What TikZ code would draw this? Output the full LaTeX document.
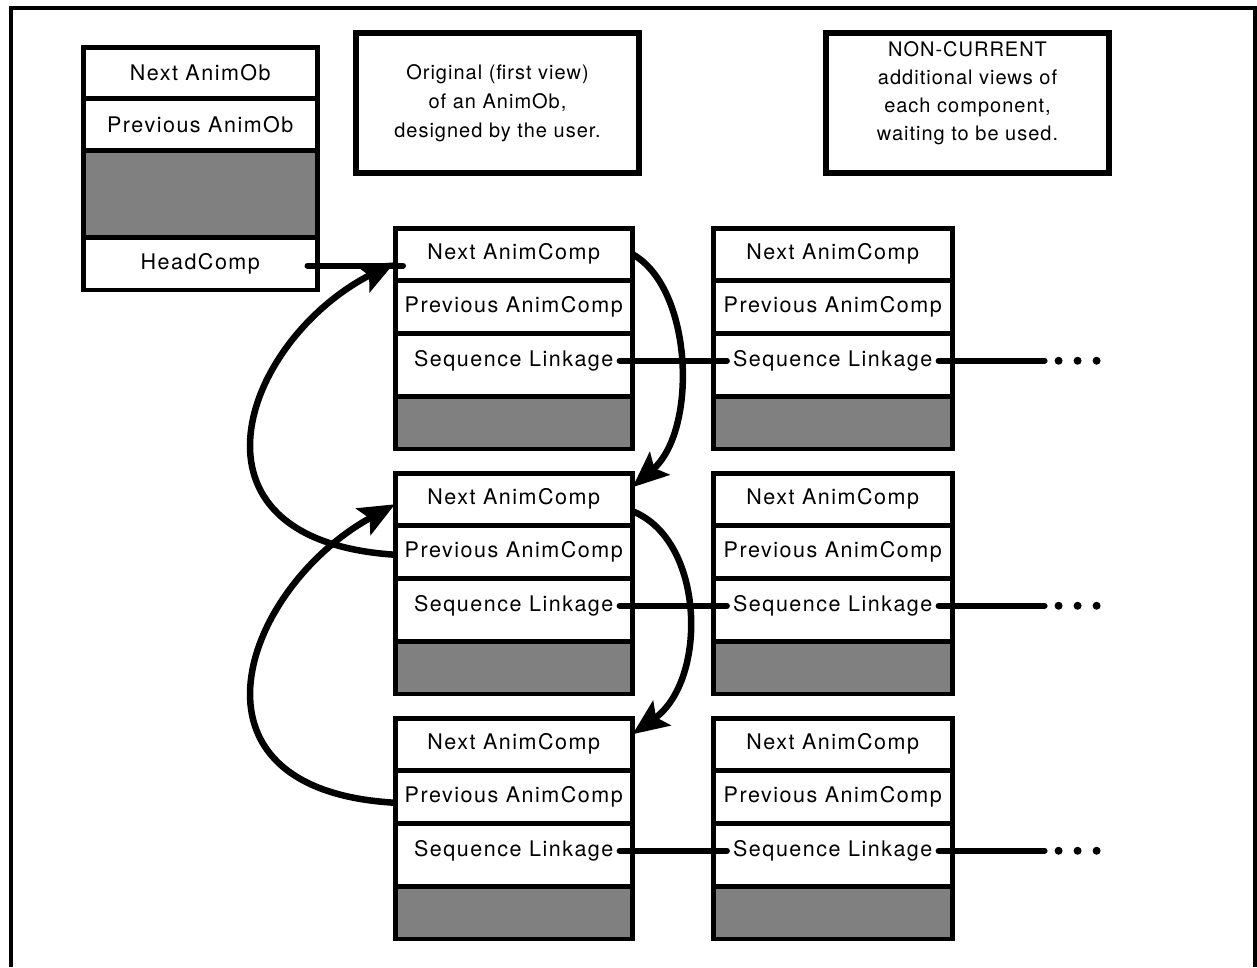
\documentclass[tikz,border=0pt]{standalone}
\usepackage{fontspec}
\newfontfamily\lblfont[LetterSpace=7]{TeX Gyre Heros}
\newfontfamily\notefont[LetterSpace=5]{TeX Gyre Heros}
\usetikzlibrary{arrows.meta,positioning,calc}

\tikzset{
  cell/.style={draw, line width=2.5pt, inner sep=0pt, minimum height=50pt},
  padcell/.style={cell, fill=black!50},
  lbl/.style={inner sep=6pt, font=\lblfont\fontsize{21.5pt}{24pt}\selectfont},
  outline/.style={draw, line width=4pt},
  notebox/.style={draw, line width=6pt, minimum width=283pt, minimum height=140pt, inner sep=0pt},
  notetext/.style={align=center, inner sep=0pt, font=\notefont\fontsize{20pt}{29pt}\selectfont},
  link/.style={line width=6pt, line cap=round},
  loop/.style={line width=6.5pt, -{Stealth[length=36pt,width=30pt,inset=7pt]}},
  dot/.style={circle, fill, inner sep=0pt, minimum size=8pt},
}

% one AnimComp record: four stacked fields with a thick outline
\newcommand{\animcomp}[3]{% prefix, width, top-left corner
  \node[cell, minimum width=#2, anchor=north west] (#1-next) at (#3) {};
  \node[cell, minimum width=#2, below=0pt of #1-next] (#1-prev) {};
  \node[cell, minimum width=#2, minimum height=61pt, below=0pt of #1-prev] (#1-seq) {};
  \node[padcell, minimum width=#2, below=0pt of #1-seq] (#1-pad) {};
  \draw[outline] (#1-next.north west) rectangle (#1-pad.south east);
  \node[lbl] (#1-nexttxt) at (#1-next) {Next AnimComp};
  \node[lbl] (#1-prevtxt) at (#1-prev) {Previous AnimComp};
  \node[lbl] (#1-seqtxt) at ([yshift=4pt]#1-seq.center) {Sequence Linkage};
}

\begin{document}
\begin{tikzpicture}[x=1pt, y=-1pt]
\useasboundingbox (0,0) rectangle (1257,967);

% page frame, open at the bottom
\draw[line width=3.5pt] (11,967) -- (11,8) -- (1255,8) -- (1255,967);

% AnimOb record
\node[cell, minimum width=232pt, minimum height=49pt, anchor=north west] (ob-next) at (83,47) {};
\node[cell, minimum width=232pt, minimum height=49pt, below=0pt of ob-next] (ob-prev) {};
\node[padcell, minimum width=232pt, minimum height=85pt, below=0pt of ob-prev] (ob-pad) {};
\node[cell, minimum width=232pt, below=0pt of ob-pad] (ob-head) {};
\draw[outline] (ob-next.north west) rectangle (ob-head.south east);
\node[lbl] (ob-nexttxt) at (ob-next) {Next AnimOb};
\node[lbl] (ob-prevtxt) at (ob-prev) {Previous AnimOb};
\node[lbl] (ob-headtxt) at (ob-head) {HeadComp};

% captions
\node[notebox, anchor=north west] (orig) at (353,30) {};
\node[notetext] (origtxt) at (orig) {Original (first view)\\of an AnimOb,\\designed by the user.};
\node[notebox, anchor=north west] (noncur) at (823,30) {};
\node[notetext, font=\notefont\fontsize{20pt}{28pt}\selectfont] (noncurtxt) at ([yshift=10pt]noncur.center)
  {NON-CURRENT\\additional views of\\each component,\\waiting to be used.};

% current components (left column) and spare views (right column)
\animcomp{a1}{235pt}{395,228}
\animcomp{a2}{235pt}{395,473}
\animcomp{a3}{235pt}{395,718}
\animcomp{b1}{237pt}{713,228}
\animcomp{b2}{237pt}{713,473}
\animcomp{b3}{237pt}{713,718}

% HeadComp pointer into the first component
\coordinate (headstart) at ($(ob-head.east)+(-10,2)$);
\coordinate (headend) at ($(a1-next.west)+(8,0)$);
\draw[link] (headstart) -- (headstart -| headend);

% sequence linkage chains
\foreach \r in {1,2,3} {
  \draw[link] (a\r-seqtxt.east) -- (b\r-seqtxt.west);
  \coordinate (tail\r) at ($(b\r-seqtxt.east)+(106,0)$);
  \draw[link] (b\r-seqtxt.east) -- (tail\r);
  \node[dot] (d\r a) at ($(tail\r)+(14,0)$) {};
  \node[dot] (d\r b) at ($(tail\r)+(33,0)$) {};
  \node[dot] (d\r c) at ($(tail\r)+(52,0)$) {};
}

% next pointers
\draw[loop] (a1-next.east) .. controls (693,288) and (698,430) .. ([yshift=12pt]a2-next.east);
\draw[loop] ([yshift=-12pt]a2-next.east) .. controls (705,540) and (708,680) .. ([yshift=10pt]a3-next.east);

% previous pointers
\draw[loop] ([yshift=-3pt]a2-prev.west) .. controls (170,540) and (243,340) .. ([yshift=-8pt]a1-next.west);
\draw[loop] ([yshift=-6pt]a3-prev.west) .. controls (170,790) and (243,588) .. ([yshift=-5pt]a2-next.west);
\end{tikzpicture}
\end{document}
